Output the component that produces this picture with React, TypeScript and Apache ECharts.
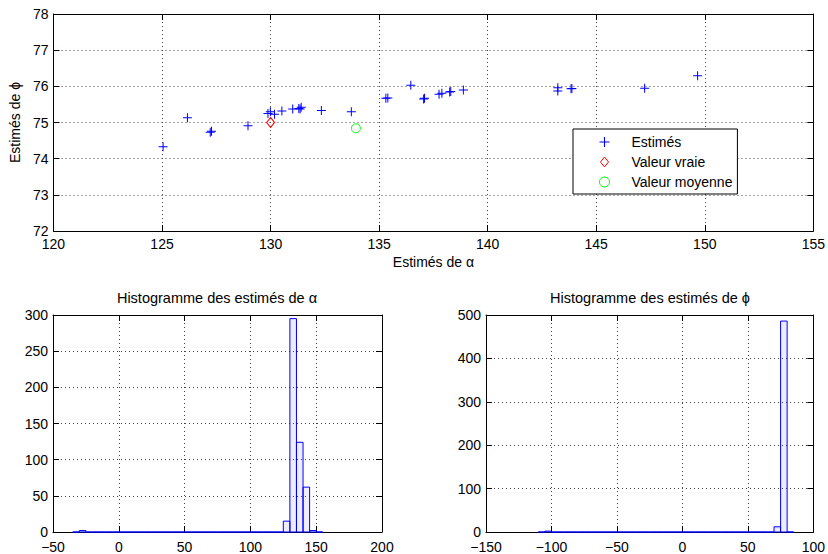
import React, { useEffect, useRef } from "react";
import * as echarts from "echarts";

// Scatter: estimates of alpha and phi
const alphaEst = [125.05, 126.17, 127.22, 127.28, 128.96, 129.88, 129.99, 130.18, 130.52, 131.02, 131.30, 131.41, 131.36, 132.34, 133.72, 135.31, 135.40, 136.46, 137.05, 137.09, 137.76, 137.89, 138.25, 138.30, 138.88, 143.23, 143.23, 143.84, 143.88, 147.23, 149.67];
const phiEst = [74.33, 75.13, 74.73, 74.76, 74.91, 75.25, 75.30, 75.23, 75.32, 75.37, 75.39, 75.42, 75.37, 75.33, 75.30, 75.67, 75.68, 76.03, 75.65, 75.67, 75.78, 75.81, 75.84, 75.86, 75.90, 75.96, 75.87, 75.93, 75.94, 75.95, 76.29];
const trueValue = [130, 75];
const meanValue = [133.93, 74.84];

// Histogram of alpha estimates (bin edges and counts)
const alphaEdges = [-35, -30, -25, -20, -15, -10, -5, 0, 5, 10, 15, 20, 25, 30, 35, 40, 45, 50, 55, 60, 65, 70, 75, 80, 85, 90, 95, 100, 105, 110, 115, 120, 125, 130, 135, 140, 145, 150, 155];
const alphaCounts = [0, 2, 0, 0, 0, 0, 0, 0, 0, 0, 0, 0, 0, 0, 0, 0, 0, 0, 0, 0, 0, 0, 0, 0, 0, 0, 0, 0, 0, 0, 0, 0, 15, 295, 124, 62, 2, 0];

// Histogram of phi estimates (bin edges and counts)
const phiEdges = [-110, -105, -100, -95, -90, -85, -80, -75, -70, -65, -60, -55, -50, -45, -40, -35, -30, -25, -20, -15, -10, -5, 0, 5, 10, 15, 20, 25, 30, 35, 40, 45, 50, 55, 60, 65, 70, 75, 80, 85];
const phiCounts = [0, 2, 0, 0, 0, 0, 0, 0, 0, 0, 0, 0, 0, 0, 0, 0, 0, 0, 0, 0, 0, 0, 0, 0, 0, 0, 0, 0, 0, 0, 0, 0, 0, 0, 0, 0, 12, 486, 0];

const FONT = "'Liberation Sans', Arial, Helvetica, sans-serif";
const PLUS = "path://M4,0H5V4H9V5H5V9H4V5H0V4H4Z";
const DIAMOND = "path://M4,0L8,5L4,10L0,5Z";

function minus(v: number | string) {
  return String(v).replace("-", "\u2212");
}

function mainX(gridIndex: number, min: number, max: number, interval: number, labelMargin: number, name?: string) {
  return {
    gridIndex, type: "value", position: "bottom", min, max, interval,
    name, nameLocation: "middle", nameGap: 24,
    nameTextStyle: { fontSize: 14, color: "#000", fontFamily: FONT },
    axisLine: { onZero: false, lineStyle: { color: "#000", width: 1 } },
    axisTick: { inside: true, length: 6, lineStyle: { color: "#000" } },
    axisLabel: { fontSize: 14, lineHeight: 12, color: "#000", fontFamily: FONT, margin: labelMargin, formatter: minus },
    splitLine: { show: true, lineStyle: { color: "#444", type: [1, 3], width: 1 } },
  };
}
function topX(gridIndex: number, min: number, max: number, interval: number) {
  return {
    gridIndex, type: "value", position: "top", min, max, interval,
    axisLine: { onZero: false, lineStyle: { color: "#000", width: 1 } },
    axisTick: { inside: true, length: 6, lineStyle: { color: "#000" } },
    axisLabel: { show: false },
    splitLine: { show: false },
  };
}
function mainY(gridIndex: number, min: number, max: number, interval: number, name?: string) {
  return {
    gridIndex, type: "value", position: "left", min, max, interval,
    name, nameLocation: "middle", nameGap: 29, nameRotate: 90,
    nameTextStyle: { fontSize: 14, color: "#000", fontFamily: FONT },
    axisLine: { show: true, onZero: false, lineStyle: { color: "#000", width: 1 } },
    axisTick: { show: true, inside: true, length: 6, lineStyle: { color: "#000" } },
    axisLabel: { fontSize: 14, lineHeight: 12, color: "#000", fontFamily: FONT, margin: 5, formatter: minus },
    splitLine: { show: true, lineStyle: { color: "#444", type: [1, 3], width: 1 } },
  };
}
function rightY(gridIndex: number, min: number, max: number, interval: number) {
  return {
    gridIndex, type: "value", position: "right", min, max, interval,
    axisLine: { show: true, onZero: false, lineStyle: { color: "#000", width: 1 } },
    axisTick: { show: true, inside: true, length: 6, lineStyle: { color: "#000" } },
    axisLabel: { show: false },
    splitLine: { show: false },
  };
}

function histData(edges: number[], counts: number[]) {
  return counts.map((c, i) => [edges[i], edges[i + 1], c]);
}

function renderBar(params: any, api: any) {
  const p0 = api.coord([api.value(0), api.value(2)]);
  const p1 = api.coord([api.value(1), 0]);
  return {
    type: "rect",
    shape: { x: p0[0], y: p0[1], width: p1[0] - p0[0], height: p1[1] - p0[1] },
    style: { fill: "rgba(0,0,255,0.07)", stroke: "#0000ff", lineWidth: 1 },
  };
}

export default function App() {
  const ref = useRef<HTMLDivElement>(null);
  useEffect(() => {
    if (!ref.current) return;
    const chart = echarts.init(ref.current, undefined, { renderer: "svg" });
    const option = {
      animation: false,
      backgroundColor: "#fff",
      textStyle: { fontFamily: FONT },
      title: [
        { text: "Histogramme des estimés de α", left: 217, top: 290, textAlign: "center", padding: 0,
          textStyle: { fontSize: 14.5, fontWeight: "normal", color: "#000", fontFamily: FONT } },
        { text: "Histogramme des estimés de ϕ", left: 650, top: 290, textAlign: "center", padding: 0,
          textStyle: { fontSize: 14.5, fontWeight: "normal", color: "#000", fontFamily: FONT } },
      ],
      grid: [
        { left: 53, top: 14, width: 762, height: 217 },
        { left: 53, top: 315, width: 329, height: 217 },
        { left: 486, top: 315, width: 329, height: 217 },
      ],
      xAxis: [
        mainX(0, 120, 155, 5, 7, "Estimés de α"),
        topX(0, 120, 155, 5),
        mainX(1, -50, 200, 50, 9),
        topX(1, -50, 200, 50),
        mainX(2, -150, 100, 50, 9),
        topX(2, -150, 100, 50),
      ],
      yAxis: [
        mainY(0, 72, 78, 1, "Estimés de ϕ"),
        rightY(0, 72, 78, 1),
        mainY(1, 0, 300, 50),
        rightY(1, 0, 300, 50),
        mainY(2, 0, 500, 100),
        rightY(2, 0, 500, 100),
      ],
      legend: {
        orient: "vertical", left: 573, top: 129,
        padding: [6, 5, 5, 26], itemWidth: 10, itemHeight: 10, itemGap: 6,
        symbolKeepAspect: true,
        borderColor: "#000", borderWidth: 1, backgroundColor: "#fff",
        selectedMode: false,
        textStyle: { fontSize: 14, color: "#000", fontFamily: FONT, padding: [0, 0, 0, 17] },
        data: [
          { name: "Estimés", icon: PLUS, itemStyle: { color: "#0000ff" } },
          { name: "Valeur vraie", icon: DIAMOND, itemStyle: { color: "rgba(0,0,0,0)", borderColor: "#ff0000", borderWidth: 1 } },
          { name: "Valeur moyenne", icon: "circle", itemStyle: { color: "rgba(0,0,0,0)", borderColor: "#00ff00", borderWidth: 1 } },
        ],
      },
      series: [
        {
          name: "Estimés", type: "scatter", xAxisIndex: 0, yAxisIndex: 0,
          symbol: PLUS, symbolSize: 9,
          itemStyle: { color: "#0000ff", opacity: 1 },
          data: alphaEst.map((a, i) => [a, phiEst[i]]),
          z: 3,
        },
        {
          name: "Valeur vraie", type: "scatter", xAxisIndex: 0, yAxisIndex: 0,
          symbol: DIAMOND, symbolSize: [8, 10],
          itemStyle: { color: "rgba(0,0,0,0)", borderColor: "#ff0000", borderWidth: 1, opacity: 1 },
          data: [trueValue],
          z: 4,
        },
        {
          name: "Valeur moyenne", type: "scatter", xAxisIndex: 0, yAxisIndex: 0,
          symbol: "circle", symbolSize: 9,
          itemStyle: { color: "rgba(0,0,0,0)", borderColor: "#00ff00", borderWidth: 1, opacity: 1 },
          data: [meanValue],
          z: 4,
        },
        {
          type: "custom", xAxisIndex: 2, yAxisIndex: 2,
          renderItem: renderBar, encode: { x: [0, 1], y: 2 },
          data: histData(alphaEdges, alphaCounts),
          z: 3,
        },
        {
          type: "custom", xAxisIndex: 4, yAxisIndex: 4,
          renderItem: renderBar, encode: { x: [0, 1], y: 2 },
          data: histData(phiEdges, phiCounts),
          z: 3,
        },
      ],
    };
    chart.setOption(option as any);
    return () => chart.dispose();
  }, []);
  return (
    <div
      ref={ref}
      style={{ position: "fixed", left: 0, top: 0, width: 828, height: 554, background: "#fff" }}
    />
  );
}
